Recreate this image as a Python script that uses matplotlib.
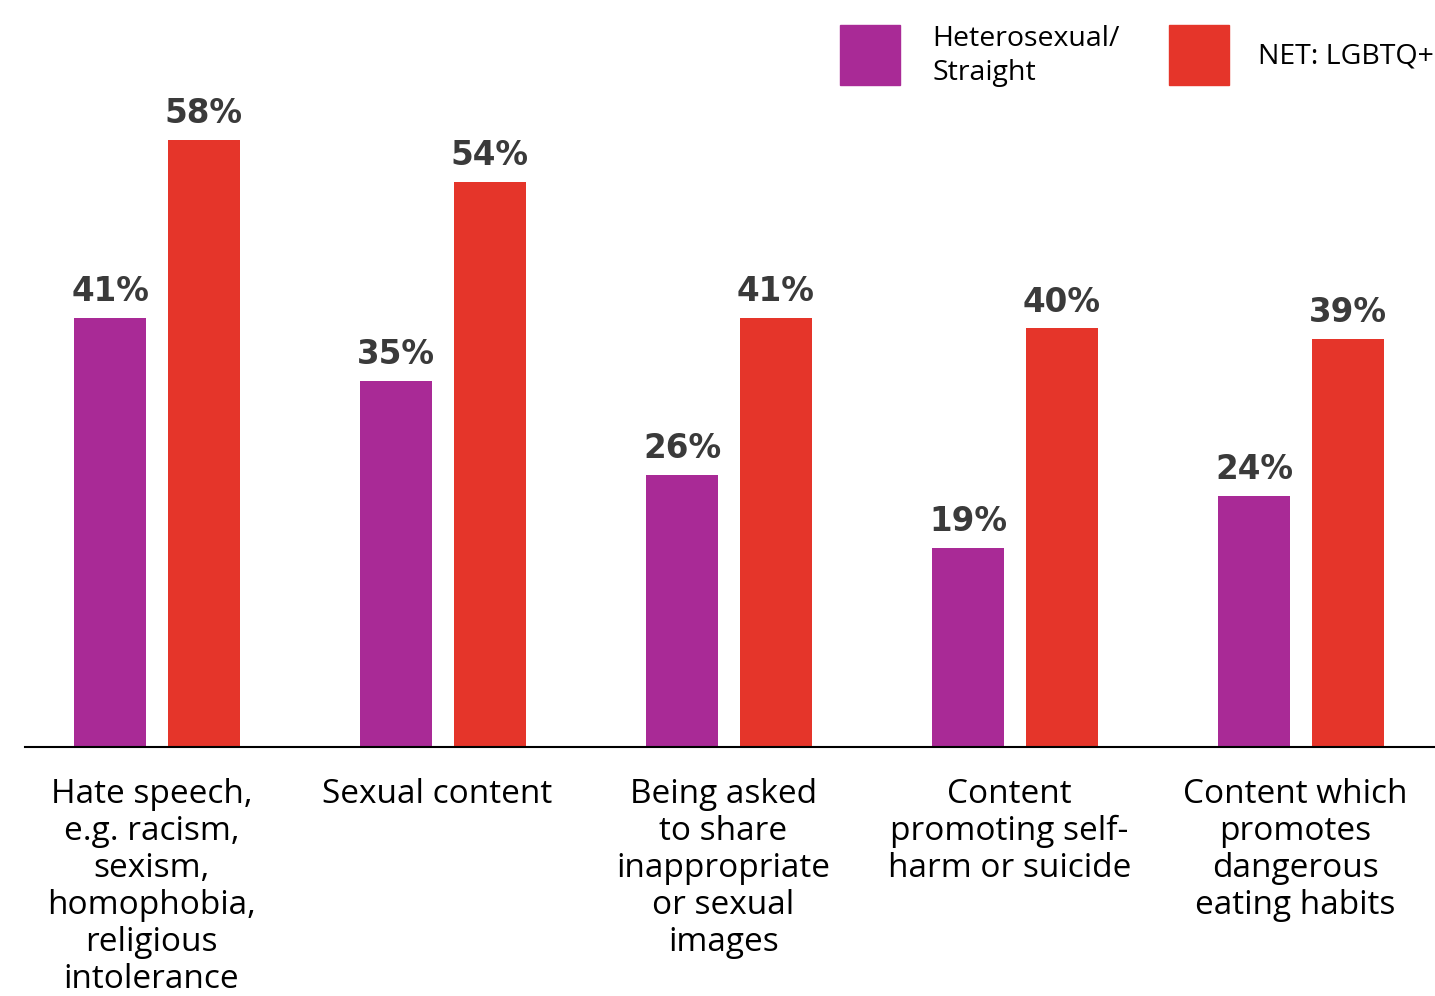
import numpy as np
import matplotlib.pyplot as plt
from matplotlib.patches import Rectangle

categories = [
    "Hate speech,\ne.g. racism,\nsexism,\nhomophobia,\nreligious\nintolerance",
    "Sexual content",
    "Being asked\nto share\ninappropriate\nor sexual\nimages",
    "Content\npromoting self-\nharm or suicide",
    "Content which\npromotes\ndangerous\neating habits",
]
straight = [41, 35, 26, 19, 24]
lgbtq = [58, 54, 41, 40, 39]
series_names = ["Heterosexual/\nStraight", "NET: LGBTQ+"]

PURPLE = "#A92A96"
RED = "#E5352A"
LABEL_GRAY = "#3A3A3A"

plt.rcParams['font.family'] = ['Open Sans', 'DejaVu Sans']

fig = plt.figure(figsize=(14.35, 9.96), dpi=100)
ax = fig.add_axes([25 / 1435, 249 / 996, 1410 / 1435, 747 / 996])

x = np.arange(len(categories))
width = 0.252
off = 0.164

bars1 = ax.bar(x - off, straight, width, color=PURPLE)
bars2 = ax.bar(x + off, lgbtq, width, color=RED)

for bars, vals in [(bars1, straight), (bars2, lgbtq)]:
    for b, v in zip(bars, vals):
        ax.annotate(f"{v}%", (b.get_x() + b.get_width() / 2, v),
                    xytext=(0, 12), textcoords='offset points',
                    ha='center', va='baseline', fontsize=23.5,
                    fontweight='bold', family='DejaVu Sans', color=LABEL_GRAY)

ax.set_xlim(-132 / 286, 1278 / 286)
ax.set_ylim(0, 747 / 10.47)

ax.set_xticks(x - 0.02)
ax.set_xticklabels(categories, fontsize=24, color='black', linespacing=1.16)
ax.tick_params(axis='x', length=0, pad=22)
ax.set_yticks([])

for s in ['top', 'right', 'left']:
    ax.spines[s].set_visible(False)
ax.spines['bottom'].set_linewidth(1.5)
ax.spines['bottom'].set_color('black')

# legend drawn by hand to match the reference layout
W, H = 1435, 996
for (px, col, name, tx) in [(840, PURPLE, series_names[0], 932),
                            (1169, RED, series_names[1], 1258)]:
    fig.patches.append(Rectangle((px / W, 1 - 85 / H), 60 / W, 60 / H,
                                 transform=fig.transFigure, color=col))
    fig.text(tx / W, 1 - 56 / H, name, fontsize=20.5, va='center',
             ha='left', color='black', linespacing=1.25)

fig.savefig('out.png', dpi=100)
